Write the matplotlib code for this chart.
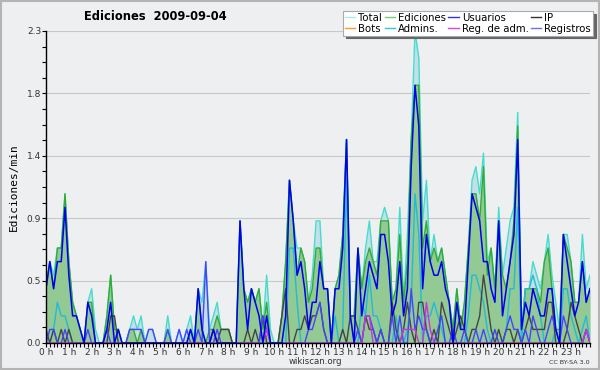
import numpy as np
import matplotlib
matplotlib.use("Agg")
import matplotlib.pyplot as plt
from matplotlib.patches import Rectangle

# valores en ediciones por 10 minutos (144 intervalos: 0h00 .. 23h50)
total = [4, 6, 5, 7, 7, 11,  6, 3, 2, 1, 0, 3,  4, 1, 0, 0, 2, 5,  1, 1, 0, 0, 1, 2,
         1, 2, 0, 1, 1, 0,  0, 0, 2, 0, 0, 1,  0, 1, 2, 0, 4, 3,  6, 1, 2, 3, 1, 1,
         1, 0, 0, 9, 4, 3,  4, 3, 4, 1, 5, 1,  0, 0, 2, 6, 12, 9,  7, 7, 6, 3, 5, 9,
         9, 4, 4, 0, 4, 5,  8, 15, 2, 2, 7, 4,  7, 9, 6, 6, 9, 10,  9, 3, 4, 10, 3, 8,
         15, 23, 21, 9, 12, 6,  8, 6, 7, 5, 3, 1,  4, 1, 3, 7, 12, 13,  11, 14, 6, 7, 4, 10,
         5, 7, 9, 10, 17, 1,  4, 4, 6, 5, 4, 6,  8, 5, 3, 1, 8, 8,  6, 3, 3, 8, 4, 5]
ediciones = [4, 6, 4, 7, 7, 11,  6, 3, 2, 1, 0, 3,  3, 0, 0, 0, 2, 5,  1, 1, 0, 0, 1, 1,
             0, 1, 0, 0, 0, 0,  0, 0, 1, 0, 0, 0,  0, 0, 1, 0, 4, 1,  0, 1, 1, 2, 1, 1,
             1, 0, 0, 9, 4, 3,  4, 3, 4, 1, 3, 0,  0, 0, 2, 6, 12, 9,  5, 7, 6, 3, 4, 7,
             7, 4, 4, 0, 4, 5,  8, 15, 2, 2, 7, 4,  6, 7, 6, 5, 9, 9,  9, 3, 4, 8, 3, 6,
             15, 19, 19, 7, 9, 6,  7, 6, 7, 5, 3, 1,  4, 1, 3, 7, 11, 11,  9, 13, 5, 7, 4, 9,
             5, 4, 6, 9, 16, 1,  4, 4, 4, 4, 3, 6,  7, 4, 1, 1, 8, 7,  6, 3, 3, 6, 3, 4]
usuarios = [4, 6, 4, 6, 6, 10,  5, 2, 2, 1, 0, 3,  2, 0, 0, 0, 1, 3,  0, 1, 0, 0, 0, 0,
            0, 0, 0, 0, 0, 0,  0, 0, 0, 0, 0, 0,  0, 0, 1, 0, 4, 1,  0, 0, 1, 0, 0, 0,
            0, 0, 0, 9, 4, 1,  4, 3, 2, 0, 2, 0,  0, 0, 0, 2, 12, 9,  5, 6, 4, 1, 3, 3,
            6, 4, 4, 0, 4, 4,  7, 15, 2, 0, 7, 2,  4, 6, 5, 4, 8, 8,  6, 2, 3, 6, 2, 4,
            13, 19, 16, 4, 8, 6,  5, 5, 6, 4, 3, 0,  3, 1, 1, 6, 11, 10,  9, 6, 6, 4, 3, 9,
            2, 4, 6, 8, 15, 1,  3, 2, 4, 3, 2, 2,  4, 4, 1, 0, 8, 6,  4, 2, 3, 6, 3, 4]
ip = [1, 0, 1, 0, 1, 0,  1, 0, 0, 0, 0, 0,  0, 0, 0, 0, 0, 2,  2, 0, 0, 0, 0, 0,
      0, 0, 0, 0, 0, 0,  0, 0, 0, 0, 0, 0,  0, 0, 0, 0, 0, 0,  0, 0, 1, 0, 1, 1,
      1, 0, 0, 0, 0, 1,  0, 1, 0, 2, 0, 0,  0, 0, 2, 4, 0, 0,  1, 1, 2, 1, 2, 2,
      3, 1, 0, 0, 0, 0,  1, 0, 2, 2, 1, 0,  2, 1, 1, 0, 1, 0,  0, 3, 1, 0, 1, 3,
      1, 0, 3, 3, 1, 0,  1, 0, 3, 2, 1, 0,  1, 2, 1, 0, 1, 1,  2, 5, 3, 1, 0, 1,
      0, 1, 1, 0, 1, 0,  1, 2, 1, 1, 1, 1,  3, 3, 0, 0, 0, 1,  3, 2, 1, 0, 1, 0]
bots = [0] * 144
admins = [0, 0, 1, 3, 2, 2,  1, 0, 0, 0, 0, 0,  0, 0, 0, 0, 0, 0,  0, 0, 0, 0, 0, 0,
          0, 0, 0, 0, 0, 0,  0, 0, 0, 0, 0, 0,  0, 0, 0, 0, 0, 0,  0, 0, 0, 0, 0, 0,
          0, 0, 0, 0, 0, 0,  0, 0, 0, 0, 0, 0,  0, 0, 0, 0, 7, 7,  3, 0, 0, 0, 0, 0,
          0, 0, 0, 0, 2, 0,  1, 12, 2, 0, 0, 3,  2, 5, 2, 2, 1, 0,  0, 0, 2, 0, 0, 1,
          3, 11, 8, 0, 2, 2,  3, 2, 1, 0, 0, 0,  0, 0, 0, 2, 5, 5,  4, 3, 1, 0, 0, 0,
          0, 1, 4, 4, 10, 0,  4, 4, 5, 4, 2, 0,  0, 0, 1, 0, 4, 4,  2, 1, 0, 1, 2, 0]
reg_adm = [0] * 58 + [1] + [0] * 25 + [2, 2] + [0] * 8 + [1, 1, 1, 1, 0, 0, 3, 1] + [0] * 40 + [1, 0]
registros = [0, 1, 1, 0, 0, 1,  0, 0, 0, 0, 0, 1,  0, 0, 0, 0, 1, 0,  0, 0, 0, 0, 1, 1,
             1, 1, 0, 1, 1, 0,  0, 0, 1, 0, 0, 1,  0, 1, 0, 0, 1, 0,  6, 0, 0, 1, 0, 0,
             0, 0, 0, 0, 0, 0,  0, 0, 0, 2, 1, 0,  0, 0, 0, 0, 0, 0,  0, 0, 0, 1, 1, 2,
             3, 1, 0, 0, 0, 0,  0, 0, 0, 0, 1, 0,  2, 2, 1, 0, 1, 0,  0, 2, 0, 2, 0, 0,
             4, 1, 2, 1, 1, 0,  0, 1, 2, 0, 0, 1,  0, 0, 1, 0, 0, 1,  0, 1, 0, 0, 1, 0,
             0, 1, 2, 1, 1, 0,  1, 0, 2, 1, 0, 0,  1, 2, 1, 0, 2, 1,  0, 0, 0, 0, 1, 0]

hour_labels = ["%d h" % h for h in range(24)]
y_max = 2.3

x = np.arange(len(total))
def per_min(v):
    return np.array(v) / 10.0

bg = "#eeeff1"
fig = plt.figure(figsize=(6, 3.7), dpi=100, facecolor=bg)
fig.patches.append(Rectangle((0.002, 0.003), 0.996, 0.994, transform=fig.transFigure,
                             fill=False, edgecolor="#b4b4b4", linewidth=1.5))
ax = fig.add_axes([46 / 600, 27 / 370, 544 / 600, 312 / 370])
ax.set_facecolor(bg)

# rellenos
ax.fill_between(x, per_min(total), color="#c4dfe8", linewidth=0)
ax.fill_between(x, per_min(ediciones), color="#93c993", linewidth=0)

# lineas
lw = 1.0
ax.plot(x, per_min(total), color="#44ddcc", lw=lw)
ax.plot(x, per_min(ediciones), color="#33aa33", lw=lw)
ax.plot(x, per_min(admins), color="#22bbd6", lw=lw)
ax.plot(x, per_min(ip), color="#444444", lw=lw)
ax.plot(x, per_min(bots), color="#ff9933", lw=0)
ax.plot(x, per_min(registros), color="#4444ff", lw=lw)
ax.plot(x, per_min(reg_adm), color="#cc33dd", lw=lw)
ax.plot(x, per_min(usuarios), color="#0000ee", lw=1.1)

ax.set_xlim(0, len(total) - 1)
ax.set_ylim(0, y_max)

yt = np.linspace(0, y_max, 6)
ax.set_yticks(yt)
ax.set_yticklabels(["%.1f" % v for v in yt])
ax.set_yticks(np.linspace(0, y_max, 21), minor=True)
ax.set_xticks(np.arange(0, 144, 6))
ax.set_xticklabels(hour_labels)
ax.set_xticks(np.arange(0, 144, 1), minor=True)
ax.tick_params(axis="both", which="both", direction="out", length=3, width=0.8,
               labelsize=6.5, labelcolor="#333333", pad=0.5)
ax.grid(axis="y", which="major", color="#c8c8c8", lw=0.8)
ax.set_axisbelow(True)
for s in ["top", "right"]:
    ax.spines[s].set_visible(False)
ax.spines["left"].set_linewidth(1.0)
ax.spines["bottom"].set_linewidth(1.0)

ax.set_ylabel("Ediciones/min", family="DejaVu Sans Mono", fontsize=8, labelpad=6)
fig.text(155 / 600, 1 - 17 / 370, "Ediciones  2009-09-04", ha="center", va="center",
         fontsize=8.3, fontweight="bold")
fig.text(315 / 600, 1 - 362 / 370, "wikiscan.org", ha="center", va="center",
         fontsize=6.2, color="#333333")
fig.text(590 / 600, 1 - 362 / 370, "CC BY-SA 3.0", ha="right", va="center",
         fontsize=4.6, color="#333333")

# leyenda: 4 columnas, orden por filas
h_total = plt.Line2D([], [], color="#a8ece4", lw=1)
h_edic = plt.Line2D([], [], color="#77cc77", lw=1)
h_usu = plt.Line2D([], [], color="#3333dd", lw=1)
h_ip = plt.Line2D([], [], color="#333333", lw=1)
h_bots = plt.Line2D([], [], color="#ff9933", lw=1)
h_adm = plt.Line2D([], [], color="#33c6d8", lw=1)
h_regadm = plt.Line2D([], [], color="#dd44dd", lw=1)
h_reg = plt.Line2D([], [], color="#7070ee", lw=1)
handles = [h_total, h_bots, h_edic, h_adm, h_usu, h_regadm, h_ip, h_reg]
labels = ["Total", "Bots", "Ediciones", "Admins.", "Usuarios", "Reg. de adm.", "IP", "Registros"]
leg = fig.legend(handles, labels, ncol=4, loc="upper right",
                 bbox_to_anchor=(593 / 600, 1 - 11 / 370), fontsize=7.3,
                 frameon=True, fancybox=False, shadow={"color": "#666666", "alpha": 1},
                 framealpha=1, edgecolor="#aaaaaa", handlelength=1.0, handletextpad=0.3,
                 columnspacing=0.25, labelspacing=0.05, borderpad=0.2, borderaxespad=0)
leg.get_frame().set_linewidth(0.8)

fig.savefig("out.png", dpi=100, facecolor=bg)
